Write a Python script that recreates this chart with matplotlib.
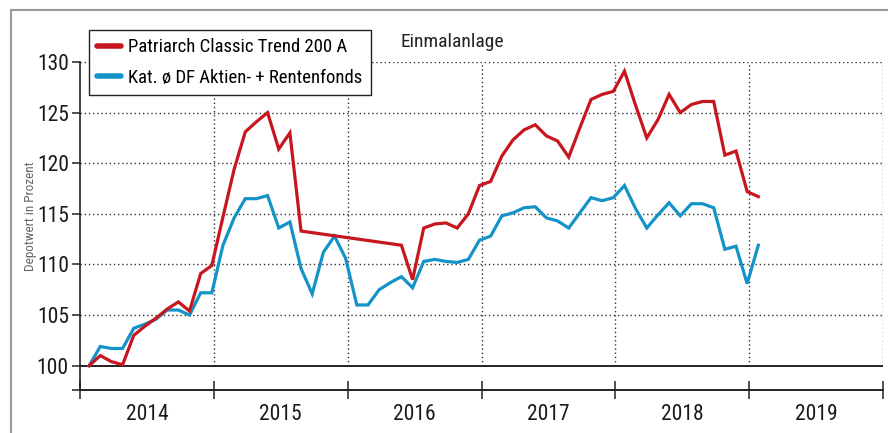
import matplotlib
matplotlib.use("Agg")
import matplotlib.pyplot as plt
from matplotlib import font_manager
from matplotlib.lines import Line2D
import numpy as np

# ---------------- data ----------------
months = [f"{2014 + (i // 12)}-{(i % 12) + 1:02d}" for i in range(61)]  # Jan 2014 .. Jan 2019
patriarch = [100.0, 101.0, 100.4, 100.1, 103.0, 103.9, 104.7, 105.6, 106.3, 105.4, 109.1, 109.9,
             114.7, 119.4, 123.1, 124.1, 125.0, 121.4, 123.0, 113.3, None, None, None, None,
             None, None, None, None, 111.9, 108.5, 113.6, 114.0, 114.1, 113.6, 115.0, 117.8,
             118.2, 120.7, 122.3, 123.3, 123.8, 122.7, 122.2, 120.6, 123.5, 126.3, 126.8, 127.1,
             129.1, 125.7, 122.5, 124.3, 126.8, 125.0, 125.8, 126.1, 126.1, 120.8, 121.2, 117.2,
             116.7]
kategorie = [100.0, 101.9, 101.7, 101.7, 103.7, 104.1, 104.6, 105.5, 105.5, 105.0, 107.2, 107.2,
             111.9, 114.6, 116.5, 116.5, 116.8, 113.6, 114.2, 109.6, 107.1, 111.2, 112.8, 110.6,
             106.0, 106.0, 107.5, 108.2, 108.8, 107.7, 110.3, 110.5, 110.3, 110.2, 110.5, 112.4,
             112.8, 114.8, 115.1, 115.6, 115.7, 114.6, 114.3, 113.6, 115.1, 116.6, 116.3, 116.6,
             117.8, 115.5, 113.6, 114.9, 116.1, 114.8, 116.0, 116.0, 115.6, 111.5, 111.8, 108.1,
             111.9]
series_names = ["Patriarch Classic Trend 200 A", "Kat. ø DF Aktien- + Rentenfonds"]
year_labels = ["2014", "2015", "2016", "2017", "2018", "2019"]
y_ticks = [100, 105, 110, 115, 120, 125, 130]
title = "Einmalanlage"
ylabel = "Depotwert in Prozent"

RED = "#c8161e"
BLUE = "#1493c8"

# ---------------- fonts ----------------
def pick_font(cands):
    for c in cands:
        try:
            font_manager.findfont(c, fallback_to_default=False)
            return c
        except Exception:
            pass
    return "DejaVu Sans"

FONT = pick_font(["Liberation Sans Narrow", "Roboto Condensed", "Liberation Sans"])
plt.rcParams["font.family"] = [FONT, "DejaVu Sans"]

# ---------------- figure ----------------
W, H = 888, 433
fig = plt.figure(figsize=(W / 100, H / 100), dpi=100)
fig.patch.set_facecolor("white")

# axes rectangle in pixels
x0, x1 = 80, 883
ytop, ybot = 62, 390
ax = fig.add_axes([x0 / W, 1 - ybot / H, (x1 - x0) / W, (ybot - ytop) / H])

# dates as decimal years
dates = np.array([int(m[:4]) + (int(m[5:]) - 0.18) / 12 for m in months])
pat = np.array([np.nan if v is None else v for v in patriarch], dtype=float)
kat = np.array(kategorie, dtype=float)

ax.set_xlim(2014, 2020)
ax.set_ylim(97.6, 130)

# grid
for v in y_ticks[1:]:
    ax.axhline(v, color="#333333", lw=1.0, ls=(0, (1, 2)), zorder=1)
ax.vlines(np.arange(2015, 2021), 100, 130, colors="#333333", lw=1.0, linestyles=(0, (1, 2)), zorder=1)
ax.axhline(100, color="#222222", lw=1.4, zorder=2)

# series
m = ~np.isnan(pat)
ax.plot(dates[m], pat[m], color=RED, lw=2.3, zorder=4, solid_joinstyle="miter")
ax.plot(dates, kat, color=BLUE, lw=2.3, zorder=3, solid_joinstyle="miter")

# spines
for s in ["top", "right"]:
    ax.spines[s].set_visible(False)
ax.spines["left"].set_color("#222222")
ax.spines["bottom"].set_color("#222222")
ax.spines["left"].set_linewidth(1.2)
ax.spines["bottom"].set_linewidth(1.4)

# y ticks
ax.set_yticks([97.6] + y_ticks)
ax.set_yticklabels([""] + [str(v) for v in y_ticks])
ax.tick_params(axis="y", direction="out", length=6, width=1.1, color="#222222",
               labelsize=15.5, labelcolor="#1a1a1a", pad=2)

# x ticks: boundaries with minor labels at mid-year
ax.set_xticks(np.arange(2014, 2021))
ax.set_xticklabels([])
ax.tick_params(axis="x", which="major", direction="inout", length=13, width=1.1, color="#222222")
ax.set_xticks(np.arange(2014.5, 2020), minor=True)
ax.set_xticklabels(year_labels, minor=True)
ax.tick_params(axis="x", which="minor", length=0, labelsize=15.5, labelcolor="#1a1a1a", pad=10)

ax.set_ylabel(ylabel, fontsize=9.5, color="#666666")
ax.yaxis.set_label_coords(-0.053, 0.53)

# title
fig.text(452 / W, 1 - 42 / H, title, ha="center", va="center", fontsize=14, color="#222222")

# legend
handles = [Line2D([], [], color=RED, lw=4, solid_capstyle="round"),
           Line2D([], [], color=BLUE, lw=4, solid_capstyle="round")]
leg = ax.legend(handles, series_names, loc="upper left",
                bbox_to_anchor=(89 / W, 1 - 30 / H), bbox_transform=fig.transFigure,
                borderaxespad=0, frameon=True, fancybox=False, fontsize=13.5,
                handlelength=1.25, handletextpad=0.4, borderpad=0.45, labelspacing=0.65)
leg.get_frame().set_edgecolor("#222222")
leg.get_frame().set_linewidth(1.0)
leg.get_frame().set_alpha(1)
leg.set_zorder(10)

# outer frame
fig.add_artist(Line2D([11 / W, 1], [1 - 10 / H, 1 - 10 / H], transform=fig.transFigure,
                      color="#9a9a9a", lw=1.5))
fig.add_artist(Line2D([11 / W, 11 / W], [0, 1 - 10 / H], transform=fig.transFigure,
                      color="#9a9a9a", lw=1.5))

fig.savefig("out.png", dpi=100, facecolor="white")
